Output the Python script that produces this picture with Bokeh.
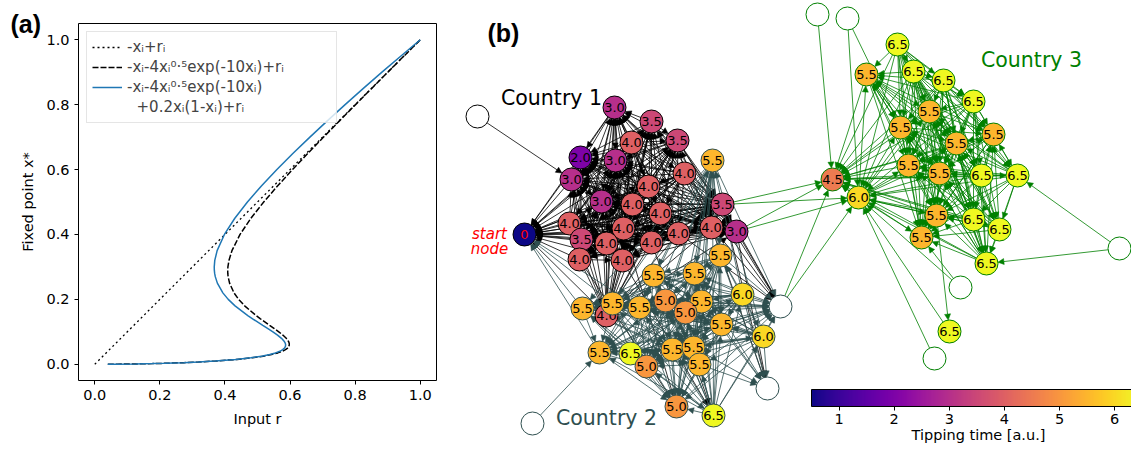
import math
import numpy as np
from bokeh.plotting import figure
from bokeh.models import (Range1d, FixedTicker, PrintfTickFormatter, Legend, LegendItem, Title,
                          ColumnDataSource, Arrow, NormalHead, LinearColorMapper, ColorBar, Label)
from bokeh.layouts import row, column
from bokeh.palettes import Plasma256
from bokeh.core.properties import value
from bokeh.embed import file_html
from bokeh.resources import INLINE

# ---------------- panel (a) data ----------------
ident_r = [0.0, 1.0]
ident_x = [0.0, 1.0]
fp_x = [0.0001, 0.0003, 0.001, 0.002, 0.003, 0.005, 0.007, 0.01, 0.015, 0.02,
        0.025, 0.03, 0.035, 0.04, 0.045, 0.05, 0.055, 0.06, 0.065, 0.07,
        0.08, 0.09, 0.1, 0.11, 0.12, 0.14, 0.15, 0.18, 0.2, 0.22,
        0.25, 0.27, 0.28, 0.29, 0.3, 0.32, 0.35, 0.4, 0.45, 0.5,
        0.55, 0.6, 0.65, 0.7, 0.75, 0.8, 0.85, 0.9, 0.95, 1.0]
dashed_r = [0.04006, 0.06937, 0.12623, 0.17734, 0.21561, 0.27405, 0.31904, 0.37193, 0.43666, 0.48314,
            0.51756, 0.54325, 0.56234, 0.57626, 0.58604, 0.59250, 0.59623, 0.59772, 0.59739, 0.59554,
            0.58836, 0.57788, 0.56533, 0.55160, 0.53735, 0.50908, 0.49567, 0.46052, 0.44209, 0.42789,
            0.41417, 0.40969, 0.40871, 0.40852, 0.40908, 0.41223, 0.42146, 0.44634, 0.47981, 0.51906,
            0.56212, 0.60768, 0.65485, 0.70305, 0.75192, 0.80120, 0.85075, 0.90040, 0.95029, 1.00020]
blue_r = [0.04004, 0.06931, 0.12603, 0.17694, 0.21501, 0.27306, 0.31765, 0.36995, 0.43371, 0.47922,
          0.51269, 0.53743, 0.55559, 0.56858, 0.57745, 0.58300, 0.58584, 0.58644, 0.58524, 0.58252,
          0.57364, 0.56150, 0.54733, 0.53202, 0.51623, 0.48500, 0.47017, 0.43100, 0.41009, 0.39357,
          0.37667, 0.37027, 0.36839, 0.36734, 0.36708, 0.36871, 0.37596, 0.39834, 0.43031, 0.46906,
          0.51262, 0.55968, 0.60935, 0.66105, 0.71442, 0.76920, 0.82525, 0.88240, 0.94079, 1.00020]
axis_ticks = [0.0, 0.2, 0.4, 0.6, 0.8, 1.0]
legend_labels = ["-x\u1d62+r\u1d62",
                 "-x\u1d62-4x\u1d62\u2070\u00b7\u2075exp(-10x\u1d62)+r\u1d62",
                 "-x\u1d62-4x\u1d62\u2070\u00b7\u2075exp(-10x\u1d62)",
                 "\u00a0\u00a0+0.2x\u1d62(1-x\u1d62)+r\u1d62"]

# ---------------- panel (b) data (layout units = pixels, y down) ----------------
node_x = [477, 614, 651, 631, 677, 580, 615, 571, 684, 648, 601, 632, 722, 660, 569, 623, 711, 736, 524, 678, 581, 606, 651, 579, 622, 606,
          712, 720, 653, 694, 742, 780, 582, 612, 639, 665, 701, 685, 721, 763, 599, 630, 646, 672, 693, 699, 767, 676, 713, 532,
          817, 847, 897, 866, 913, 943, 973, 929, 900, 993, 956, 908, 939, 981, 1017, 832, 858, 936, 973, 999, 921, 986, 1119, 960, 949, 934]
node_y = [116, 107, 121, 142, 140, 157, 160, 179, 173, 186, 201, 204, 204, 213, 223, 228, 227, 231, 234, 233, 239, 243, 242, 259, 260, 315,
          160, 255, 275, 273, 294, 306, 308, 303, 307, 300, 301, 312, 324, 336, 352, 353, 366, 349, 347, 364, 388, 406, 415, 423,
          14, 18, 44, 74, 71, 80, 101, 111, 127, 134, 143, 165, 173, 175, 175, 179, 197, 215, 219, 229, 237, 263, 248, 287, 331, 358]
node_t = [None, 3.0, 3.5, 4.0, 3.5, 2.0, 3.0, 3.0, 4.0, 4.0, 3.0, 4.0, 3.5, 4.0, 4.0, 4.0, 4.0, 3.0, 0, 4.0, 3.5, 4.0, 4.0, 4.0, 4.0, 4.0,
          5.5, 5.5, 5.5, 5.5, 6.0, None, 5.5, 5.5, 5.5, 5.0, 5.5, 5.0, 5.5, 6.0, 5.5, 6.5, 5.0, 5.5, 5.5, 5.5, None, 5.0, 6.5, None,
          None, None, 6.5, 5.5, 6.5, 6.5, 6.5, 5.5, 5.5, 5.5, 5.5, 5.5, 5.5, 6.5, 6.5, 4.5, 6.0, 5.5, 6.5, 6.5, 5.5, 6.5, None, None, 6.5, None]
node_country = [1] * 26 + [2] * 24 + [3] * 26
peripheral = [74]
extra_src = [0, 12, 17, 16, 19, 4, 8, 17, 12, 16, 15, 23, 24, 22,
             32, 33, 40, 34, 49,
             26, 27, 28, 29, 30, 33, 34, 35, 36, 37, 38, 39, 40, 41, 43, 44, 45, 47, 48,
             30, 38, 39, 27, 36, 44, 45, 29,
             12, 12, 17, 17, 31, 31, 50, 51, 51, 72, 72, 73, 73, 74, 67, 75]
extra_dst = [7, 31, 31, 31, 31, 31, 31, 46, 46, 46, 47, 47, 48, 48,
             18, 18, 18, 18, 40,
             31, 31, 31, 31, 31, 31, 31, 31, 31, 31, 31, 31, 31, 31, 31, 31, 31, 31, 31,
             46, 46, 46, 46, 46, 46, 46, 46,
             66, 65, 65, 66, 65, 66, 65, 66, 58, 64, 71, 66, 70, 66, 74, 66]
extra_col = [1] * 14 + [2] * 5 + [2] * 19 + [2] * 8 + [3] * 16
country_names = ["Country 1", "Country 2", "Country 3"]
country_colors = ["black", "#2f4f4f", "green"]
country_label_x = [551, 606, 1031]
country_label_y = [97, 417, 59]
cbar_ticks = [1, 2, 3, 4, 5, 6]

# ---------------- panel (a) ----------------
pa = figure(width=445, height=444, x_range=Range1d(-0.05, 1.05), y_range=Range1d(-0.05, 1.05),
            output_backend="svg", toolbar_location=None,
            min_border_left=78, min_border_right=9, min_border_top=23, min_border_bottom=64)
pa.grid.visible = False
pa.outline_line_color = "black"
pa.outline_line_width = 1
pa.background_fill_color = "white"
for ax in (pa.xaxis, pa.yaxis):
    ax.ticker = FixedTicker(ticks=axis_ticks)
    ax.formatter = PrintfTickFormatter(format="%.1f")
    ax.axis_line_color = None
    ax.major_tick_out = 4
    ax.major_tick_in = 0
    ax.minor_tick_line_color = None
    ax.major_tick_line_color = "black"
    ax.major_label_text_font = "DejaVu Sans"
    ax.major_label_text_font_size = "14.5px"
    ax.major_label_text_color = "black"
    ax.axis_label_text_font = "DejaVu Sans"
    ax.axis_label_text_font_size = "14.5px"
    ax.axis_label_text_font_style = "normal"
    ax.axis_label_text_color = "black"
    ax.major_label_standoff = 5
pa.xaxis.axis_label = "Input r"
pa.yaxis.axis_label = "Fixed point x*"
pa.xaxis.axis_label_standoff = 8
pa.yaxis.axis_label_standoff = 7

r1 = pa.line(ident_r, ident_x, line_color="black", line_width=1.3, line_dash="2 3")
r2 = pa.line(dashed_r, fp_x, line_color="black", line_width=1.5, line_dash="6 2")
r3 = pa.line(blue_r, fp_x, line_color="#1f77b4", line_width=1.5)
r4 = pa.line(x=[], y=[], line_alpha=0)
legend = Legend(items=[LegendItem(label=legend_labels[0], renderers=[r1]),
                       LegendItem(label=legend_labels[1], renderers=[r2]),
                       LegendItem(label=legend_labels[2], renderers=[r3]),
                       LegendItem(label=legend_labels[3], renderers=[r4])],
                location="top_left", margin=8, padding=5, spacing=0,
                label_height=20, glyph_height=20, glyph_width=30, label_standoff=5,
                label_width=204,
                label_text_font="DejaVu Sans", label_text_font_size="15px",
                border_line_color="#cccccc", border_line_width=1,
                background_fill_color="white", background_fill_alpha=0.8)
pa.add_layout(legend)
pa.add_layout(Title(text="(a)", align="left", offset=-68, standoff=-28, vertical_align="bottom",
                    text_font="Liberation Sans", text_font_style="bold", text_font_size="25px",
                    text_color="black"), "above")

# ---------------- panel (b) ----------------
pb = figure(width=686, height=444, x_range=Range1d(445, 1131), y_range=Range1d(444, 0),
            output_backend="svg", toolbar_location=None, min_border=0,
            x_axis_type=None, y_axis_type=None)
pb.grid.visible = False
pb.outline_line_color = None

mapper = LinearColorMapper(palette=Plasma256, low=0.5, high=6.45,
                           low_color=Plasma256[0], high_color=Plasma256[-1], nan_color="white")

N = len(node_x)
R = 11.5
edges = {1: [], 2: [], 3: []}
for c in (1, 2, 3):
    core = [k for k in range(N) if node_country[k] == c and node_t[k] is not None and k not in peripheral]
    for a in range(len(core)):
        for b in range(a + 1, len(core)):
            i, j = core[a], core[b]
            if node_t[i] >= node_t[j]:
                edges[c].append((i, j))
            else:
                edges[c].append((j, i))
for s, d, c in zip(extra_src, extra_dst, extra_col):
    edges[c].append((s, d))

for c in (1, 2, 3):
    col = country_colors[c - 1]
    x0, y0, x1, y1 = [], [], [], []
    for s, d in edges[c]:
        dx = node_x[d] - node_x[s]
        dy = node_y[d] - node_y[s]
        L = math.hypot(dx, dy)
        ux, uy = dx / L, dy / L
        x0.append(node_x[s] + R * ux)
        y0.append(node_y[s] + R * uy)
        x1.append(node_x[d] - R * ux)
        y1.append(node_y[d] - R * uy)
    src = ColumnDataSource(dict(x0=x0, y0=y0, x1=x1, y1=y1))
    pb.add_layout(Arrow(end=NormalHead(size=6, fill_color=col, line_color=col, line_width=0.5),
                        x_start="x0", y_start="y0", x_end="x1", y_end="y1", source=src,
                        line_color=col, line_width=0.8, level="underlay"))

for c in (1, 2, 3):
    idx = [k for k in range(N) if node_country[k] == c]
    t_arr = np.array([np.nan if node_t[k] is None else float(node_t[k]) for k in idx])
    labels = ["" if node_t[k] is None else ("0" if node_t[k] == 0 else "%.1f" % node_t[k]) for k in idx]
    tcol = ["red" if node_t[k] == 0 else "black" for k in idx]
    src = ColumnDataSource(dict(x=[node_x[k] for k in idx], y=[node_y[k] for k in idx],
                                t=t_arr, label=labels, tc=tcol))
    pb.scatter("x", "y", source=src, size=23, fill_color={"field": "t", "transform": mapper},
               line_color=country_colors[c - 1], line_width=1)
    pb.text("x", "y", text="label", source=src, text_align="center", text_baseline="middle",
            text_font=value("DejaVu Sans"), text_font_size="13px", text_color="tc")

for name, col, lx, ly in zip(country_names, country_colors, country_label_x, country_label_y):
    pb.add_layout(Label(x=lx, y=ly, text=name, text_align="center", text_baseline="middle",
                        text_font="DejaVu Sans", text_font_size="20.5px", text_color=col))
pb.add_layout(Label(x=489, y=233, text="start", text_align="center", text_baseline="alphabetic",
                    text_font="DejaVu Sans", text_font_style="italic", text_font_size="15px", text_color="red"))
pb.add_layout(Label(x=489, y=248, text="node", text_align="center", text_baseline="alphabetic",
                    text_font="DejaVu Sans", text_font_style="italic", text_font_size="15px", text_color="red"))
pb.add_layout(Label(x=487, y=32, text="(b)", text_font="Liberation Sans", text_font_style="bold",
                    text_font_size="25px", text_baseline="alphabetic", text_align="left", text_color="black"))

cb = ColorBar(color_mapper=mapper, orientation="horizontal", width=328, height=17, padding=0,
              ticker=FixedTicker(ticks=cbar_ticks), major_label_text_font="DejaVu Sans",
              major_label_text_font_size="14.5px", major_label_text_color="black",
              major_tick_out=4, major_tick_in=0, major_tick_line_color="black",
              minor_tick_line_color=None, bar_line_color="black", label_standoff=3,
              background_fill_alpha=0, border_line_color=None, location=(366, 18))
pb.add_layout(cb)
pb.add_layout(Label(x=978, y=434, text="Tipping time [a.u.]", text_align="center", text_baseline="middle",
                    text_font="DejaVu Sans", text_font_size="14.5px", text_color="black"))

layout = row(column(pa), column(pb))
open("out.html", "w").write(file_html(layout, INLINE))
